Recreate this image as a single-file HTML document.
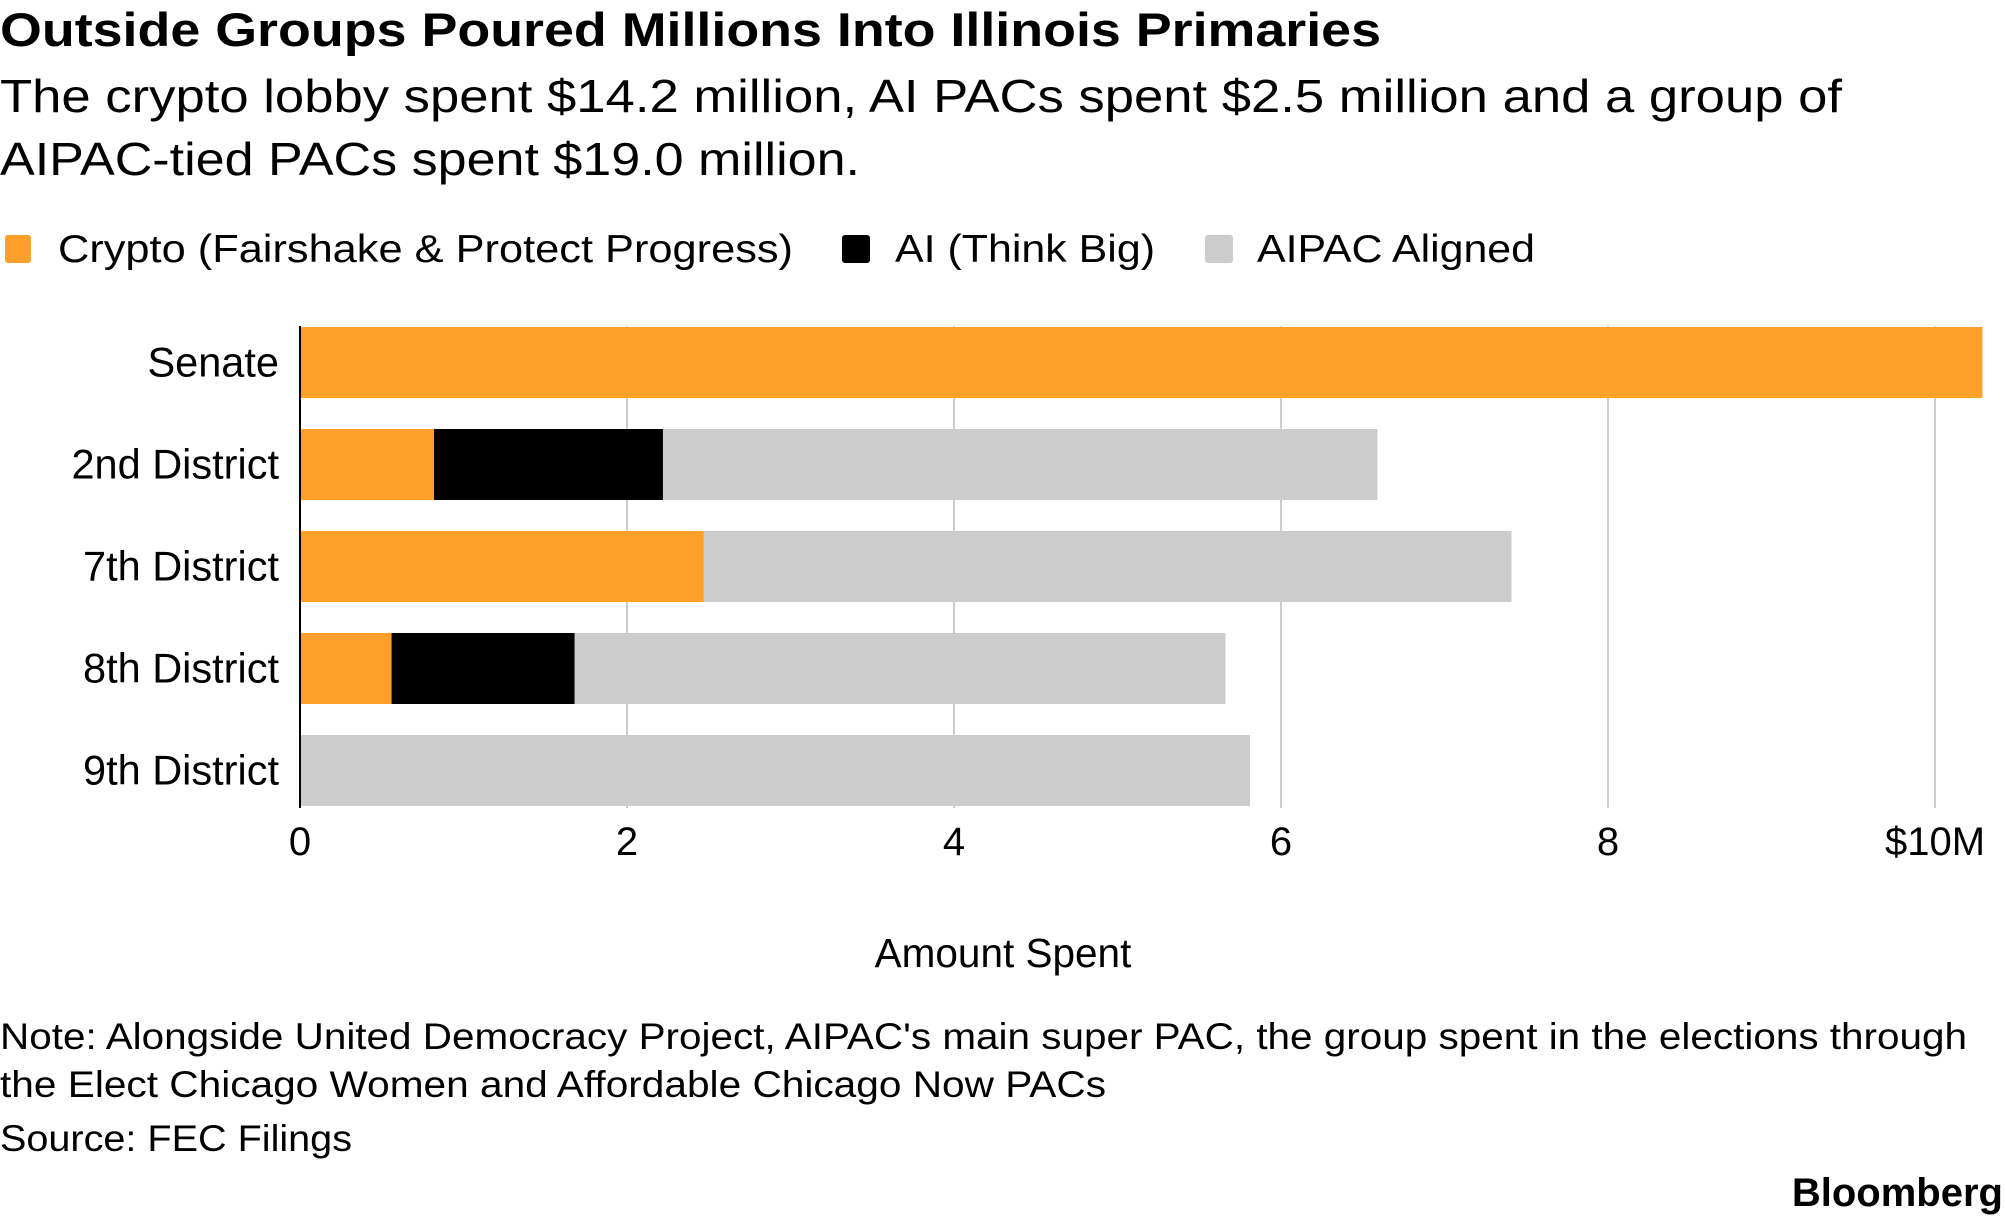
<!DOCTYPE html>
<html><head><meta charset="utf-8"><style>
html,body{margin:0;padding:0;background:#fff;}
svg text{font-family:"Liberation Sans",sans-serif;fill:#000;}
</style></head><body>
<svg width="2005" height="1221" xmlns="http://www.w3.org/2000/svg">
<text x="0" y="46" font-size="47" font-weight="bold" textLength="1381" lengthAdjust="spacingAndGlyphs">Outside Groups Poured Millions Into Illinois Primaries</text>
<text x="0" y="112" font-size="46" textLength="1842" lengthAdjust="spacingAndGlyphs">The crypto lobby spent $14.2 million, AI PACs spent $2.5 million and a group of</text>
<text x="0" y="175" font-size="46" textLength="860" lengthAdjust="spacingAndGlyphs">AIPAC-tied PACs spent $19.0 million.</text>
<g>
<rect x="5" y="235" width="26" height="28" rx="3" fill="#FFA02B"/>
<text x="58" y="262" font-size="39" textLength="735" lengthAdjust="spacingAndGlyphs">Crypto (Fairshake &amp; Protect Progress)</text>
<rect x="842" y="235" width="28" height="28" rx="3" fill="#000"/>
<text x="895" y="262" font-size="39" textLength="260" lengthAdjust="spacingAndGlyphs">AI (Think Big)</text>
<rect x="1205" y="235" width="28" height="28" rx="3" fill="#CCCCCC"/>
<text x="1257" y="262" font-size="39" textLength="278" lengthAdjust="spacingAndGlyphs">AIPAC Aligned</text>
</g>
<g id="plot"></g>
<text x="1003" y="967" font-size="40.5" text-anchor="middle">Amount Spent</text>
<text x="0" y="1049" font-size="37" textLength="1967" lengthAdjust="spacingAndGlyphs">Note: Alongside United Democracy Project, AIPAC's main super PAC, the group spent in the elections through</text>
<text x="0" y="1097" font-size="37" textLength="1106" lengthAdjust="spacingAndGlyphs">the Elect Chicago Women and Affordable Chicago Now PACs</text>
<text x="0" y="1151" font-size="37" textLength="352" lengthAdjust="spacingAndGlyphs">Source: FEC Filings</text>
<text x="2003" y="1206" font-size="40" font-weight="bold" text-anchor="end">Bloomberg</text>
</svg>
<script>
const categories = ["Senate","2nd District","7th District","8th District","9th District"];
const crypto = [10.29,0.82,2.47,0.56,0];
const ai = [0,1.40,0,1.12,0];
const aipac = [0,4.37,4.94,3.98,5.81];
const ticks = [0,2,4,6,8,10];
const tickLabels = ["0","2","4","6","8","$10M"];

const NS="http://www.w3.org/2000/svg";
const plot=document.getElementById('plot');
const X0=300, PX=163.5, TOP=327, PITCH=102, BH=71, GTOP=326, GBOT=808;
const x=v=>X0+v*PX;
const y=i=>TOP+i*PITCH;
function mk(tag,attrs){const e=document.createElementNS(NS,tag);for(const k in attrs)e.setAttribute(k,attrs[k]);plot.appendChild(e);return e;}
ticks.forEach((t,i)=>{
  if(t>0){const g=mk('line',{x1:x(t),x2:x(t),y1:GTOP,y2:GBOT,stroke:'#CCCCCC','stroke-width':2});
  
  }
  const tl=mk('text',{x:x(t),y:855,'font-size':40,'text-anchor':'middle'});
  tl.textContent=tickLabels[i];
  
  
});
const series=[[crypto,'#FFA02B','crypto'],[ai,'#000000','ai'],[aipac,'#CCCCCC','aipac']];
categories.forEach((c,i)=>{
  let acc=0;
  series.forEach(([arr,col,nm])=>{
    const v=arr[i];
    if(v>0){const r=mk('rect',{x:x(acc),y:y(i),width:v*PX,height:BH,fill:col});
    
    }
    acc+=v;
  });
  const t=mk('text',{x:279,y:y(i)+BH/2+14,'font-size':41.5,'text-anchor':'end'});
  t.textContent=c;
  
  
});
const ax=mk('line',{x1:X0,x2:X0,y1:GTOP,y2:GBOT,stroke:'#000','stroke-width':2});


</script>
</body></html>
